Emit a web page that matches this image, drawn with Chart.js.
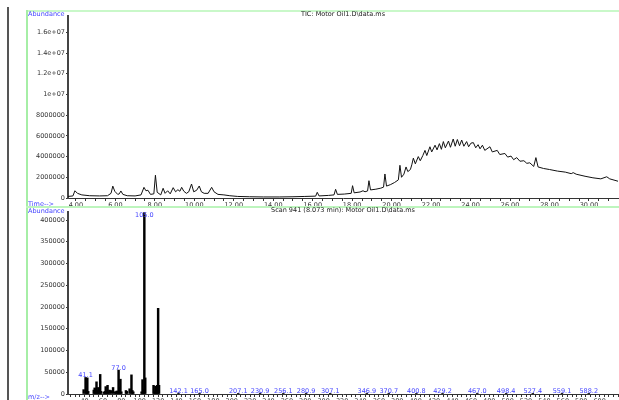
<!DOCTYPE html>
<html>
<head>
<meta charset="utf-8">
<script src="https://cdn.jsdelivr.net/npm/chart.js@4/dist/chart.umd.min.js"></script>
<style>
  html, body { margin: 0; padding: 0; background: #fff; }
  body { position: relative; width: 619px; height: 400px; overflow: hidden; font-family: "DejaVu Sans", sans-serif; }
  .rule { position: absolute; }
  .txt { position: absolute; font-size: 6.5px; line-height: 1; white-space: nowrap; }
  .blue { color: #4444ff; }
  .dark { color: #222; }
  canvas { position: absolute; }
</style>
</head>
<body>

<!-- frame rules -->
<div class="rule" style="left:7px;top:7px;width:2px;height:393px;background:#555;"></div>
<div class="rule" style="left:26px;top:10px;width:593px;height:2px;background:#c9f8c9;z-index:2;"></div>
<div class="rule" style="left:26px;top:10px;width:2px;height:390px;background:#a6eea6;z-index:2;"></div>
<div class="rule" style="left:26px;top:206px;width:593px;height:2px;background:#bdf5bd;z-index:2;"></div>

<canvas id="ticCanvas" width="592" height="196" style="left:27px;top:11px;"></canvas>
<canvas id="msCanvas" width="592" height="200" style="left:27px;top:207px;"></canvas>

<!-- panel captions -->
<div class="txt blue" style="left:28px;top:10.5px;z-index:3;">Abundance</div>
<div class="txt dark" style="left:243px;width:200px;text-align:center;top:10.5px;z-index:3;">TIC: Motor Oil1.D\data.ms</div>
<div class="txt blue" style="left:28px;top:200.5px;z-index:3;">Time--&gt;</div>
<div class="txt blue" style="left:28px;top:207.5px;z-index:3;">Abundance</div>
<div class="txt dark" style="left:193px;width:300px;text-align:center;top:206.5px;z-index:3;">Scan 941 (8.073 min): Motor Oil1.D\data.ms</div>
<div class="txt blue" style="left:28px;top:393.5px;z-index:3;">m/z--&gt;</div>

<script>
// ---- total ion chromatogram ----
const ticTime = [
  3.60, 3.85, 3.95, 4.08, 4.30, 4.70, 5.20, 5.60, 5.78, 5.87, 5.97, 6.12, 6.20, 6.28, 6.38, 6.60,
  7.00, 7.30, 7.45, 7.55, 7.65, 7.78, 7.95, 8.03, 8.12, 8.30, 8.42, 8.52, 8.65, 8.78, 8.93, 9.05,
  9.17, 9.27, 9.36, 9.47, 9.60, 9.72, 9.86, 9.97, 10.12, 10.25, 10.36, 10.50, 10.70, 10.88, 11.00,
  11.20, 11.50, 11.80, 12.20, 12.80, 13.50, 14.30, 15.00, 15.60, 16.15, 16.23, 16.32, 16.80, 17.08,
  17.16, 17.25, 17.60, 17.95, 18.02, 18.10, 18.40, 18.55, 18.65, 18.78, 18.85, 18.93, 19.20, 19.45,
  19.59, 19.66, 19.74, 19.95, 20.15, 20.34, 20.42, 20.50, 20.62, 20.73, 20.82, 20.95, 21.02, 21.10,
  21.20, 21.35, 21.45, 21.58, 21.69, 21.78, 21.94, 22.03, 22.20, 22.30, 22.42, 22.52, 22.62, 22.72,
  22.88, 22.98, 23.12, 23.22, 23.33, 23.44, 23.55, 23.66, 23.80, 23.90, 24.02, 24.14, 24.26, 24.38,
  24.48, 24.60, 24.72, 24.98, 25.10, 25.35, 25.48, 25.74, 25.88, 26.05, 26.18, 26.34, 26.50, 26.70,
  26.85, 27.00, 27.20, 27.31, 27.42, 27.70, 28.00, 28.40, 28.80, 29.10, 29.20, 29.35, 29.80, 30.20,
  30.60, 30.90, 31.05, 31.47
];
const ticAbundance = [
  0.15e6, 0.2e6, 0.7e6, 0.45e6, 0.3e6, 0.22e6, 0.2e6, 0.22e6, 0.45e6, 1.15e6, 0.65e6, 0.35e6, 0.4e6, 0.68e6, 0.35e6, 0.22e6,
  0.2e6, 0.3e6, 1.03e6, 0.7e6, 0.75e6, 0.35e6, 0.4e6, 2.2e6, 0.55e6, 0.3e6, 0.94e6, 0.45e6, 0.7e6, 0.4e6, 1.0e6, 0.6e6,
  0.8e6, 0.65e6, 1.03e6, 0.65e6, 0.45e6, 0.6e6, 1.35e6, 0.6e6, 0.75e6, 1.16e6, 0.6e6, 0.45e6, 0.45e6, 1.03e6, 0.6e6,
  0.35e6, 0.3e6, 0.22e6, 0.15e6, 0.12e6, 0.1e6, 0.1e6, 0.12e6, 0.15e6, 0.18e6, 0.55e6, 0.2e6, 0.25e6, 0.3e6,
  0.84e6, 0.35e6, 0.38e6, 0.45e6, 1.19e6, 0.5e6, 0.58e6, 0.7e6, 0.6e6, 0.68e6, 1.67e6, 0.78e6, 0.85e6, 0.95e6,
  1.05e6, 2.32e6, 1.15e6, 1.3e6, 1.5e6, 1.75e6, 3.16e6, 2.0e6, 2.3e6, 3.0e6, 2.55e6, 2.75e6, 3.2e6, 3.85e6,
  3.3e6, 4.0e6, 3.6e6, 4.1e6, 4.6e6, 4.1e6, 4.95e6, 4.45e6, 5.1e6, 4.65e6, 5.25e6, 4.7e6, 5.45e6, 4.85e6,
  5.5e6, 4.9e6, 5.7e6, 5.0e6, 5.65e6, 5.05e6, 5.6e6, 5.0e6, 5.45e6, 4.95e6, 5.3e6, 5.35e6, 4.85e6, 5.15e6,
  4.75e6, 5.1e6, 4.6e6, 4.95e6, 4.45e6, 4.6e6, 4.2e6, 4.3e6, 3.95e6, 4.05e6, 3.7e6, 3.9e6, 3.55e6, 3.6e6,
  3.35e6, 3.4e6, 3.05e6, 3.9e6, 3.0e6, 2.85e6, 2.75e6, 2.6e6, 2.5e6, 2.35e6, 2.45e6, 2.3e6, 2.1e6, 1.95e6,
  1.85e6, 2.05e6, 1.85e6, 1.62e6
];
const timeTickLabels = ['4.00', '6.00', '8.00', '10.00', '12.00', '14.00', '16.00', '18.00',
                        '20.00', '22.00', '24.00', '26.00', '28.00', '30.00'];
const ticYTickLabels = ['0', '2000000', '4000000', '6000000', '8000000', '1e+07', '1.2e+07', '1.4e+07', '1.6e+07'];

// ---- mass spectrum of scan 941 ----
const spectrumMz = [
  39, 41.1, 42, 43, 44, 50, 51, 52, 53, 54, 55, 56, 57, 58, 61, 62, 63, 64, 65, 66, 67, 69, 71,
  73, 74, 75, 76, 77.0, 78, 79, 80, 85, 86, 89, 91, 92, 93, 102, 103, 104, 105.0, 106,
  115, 116, 117, 118, 119, 120, 121,
  142.1, 165.0, 207.1, 230.9, 256.1, 280.9, 307.1, 346.9, 370.7, 400.8, 429.2, 467.0, 498.4, 527.4, 559.1, 588.2
];
const spectrumAbundance = [
  10000, 38000, 8000, 37000, 6000, 9000, 14000, 12000, 28000, 8000, 15000, 9000, 45000, 6000, 4000, 6000, 17000, 6000, 20000, 5000, 9000, 8000, 15000,
  5000, 5000, 7000, 6000, 55000, 15000, 34000, 5000, 8000, 6000, 12000, 44000, 8000, 5000, 5000, 33000, 10000, 417000, 37000,
  20000, 5000, 18000, 8000, 20000, 197000, 20000,
  2200, 1800, 1600, 2000, 1700, 1900, 1600, 1800, 1700, 1600, 1800, 1700, 1600, 1700, 1800, 1600
];
const labeledMz = [41.1, 77.0, 105.0, 142.1, 165.0, 207.1, 230.9, 256.1, 280.9, 307.1,
                   346.9, 370.7, 400.8, 429.2, 467.0, 498.4, 527.4, 559.1, 588.2];
const mzTickLabels = ['40', '60', '80', '100', '120', '140', '160', '180', '200', '220', '240', '260', '280', '300',
                      '320', '340', '360', '380', '400', '420', '440', '460', '480', '500', '520', '540', '560', '580', '600'];
const msYTickLabels = ['0', '50000', '100000', '150000', '200000', '250000', '300000', '350000', '400000'];

const FONT = { family: '"DejaVu Sans"', size: 6.5 };
const INK = '#333';

// labelled major ticks with evenly spaced unlabelled ticks between them
function ruler(labels, sub, min, max) {
  const majors = labels.map(Number);
  const step = (majors[1] - majors[0]) / sub;
  const out = [];
  let v = majors[0] - Math.floor((majors[0] - min) / step) * step;
  for (; v <= max + 1e-9; v += step) {
    const k = majors.findIndex(m => Math.abs(m - v) < step / 10);
    out.push({ value: v, text: k >= 0 ? labels[k] : '' });
  }
  return out;
}

function xAxis(min, max, labels, sub, height) {
  const marks = ruler(labels, sub, min, max);
  return {
    type: 'linear', min, max, offset: false,
    afterBuildTicks: s => { s.ticks = marks.map(m => ({ value: m.value })); },
    afterFit: s => { s.height = height; },
    ticks: { autoSkip: false, maxRotation: 0, minRotation: 0, padding: 0, font: FONT, color: INK,
             callback: (v, i) => marks[i] ? marks[i].text : '' },
    grid: { drawOnChartArea: false, offset: false, tickLength: 3, tickColor: INK, tickWidth: 1 },
    border: { color: INK, width: 1 }
  };
}

function yAxis(max, labels) {
  return {
    min: 0, max,
    afterBuildTicks: s => { s.ticks = labels.map(l => ({ value: Number(l) })); },
    afterFit: s => { s.width = 41; },
    ticks: { autoSkip: false, padding: 1, font: FONT, color: INK, callback: (v, i) => labels[i] },
    grid: { drawOnChartArea: false, tickLength: 2, tickColor: INK, tickWidth: 1 },
    border: { color: '#444', width: 2 }
  };
}

new Chart(document.getElementById('ticCanvas'), {
  type: 'scatter',
  data: {
    datasets: [{
      data: ticTime.map((t, i) => ({ x: t, y: ticAbundance[i] })),
      showLine: true, borderColor: '#111', borderWidth: 1, pointRadius: 0, tension: 0
    }]
  },
  options: {
    responsive: false, animation: false, events: [],
    layout: { padding: { top: 5, right: 1, left: 0, bottom: 0 } },
    plugins: { legend: { display: false }, tooltip: { enabled: false } },
    scales: {
      x: xAxis(3.6, 31.47, timeTickLabels, 4, 9),
      y: yAxis(1.758e7, ticYTickLabels)
    }
  }
});

const peakLabels = {
  id: 'peakLabels',
  afterDatasetsDraw(chart) {
    const { ctx, chartArea, scales: { x, y } } = chart;
    ctx.save();
    ctx.font = '6.5px "DejaVu Sans"';
    ctx.fillStyle = '#4444ff';
    ctx.textAlign = 'center';
    ctx.textBaseline = 'alphabetic';
    labeledMz.forEach(m => {
      const i = spectrumMz.indexOf(m);
      const px = x.getPixelForValue(m);
      const py = Math.max(y.getPixelForValue(spectrumAbundance[i]), chartArea.top + 5);
      ctx.fillText(m.toFixed(1), px, py);
    });
    ctx.restore();
  }
};

new Chart(document.getElementById('msCanvas'), {
  type: 'bar',
  data: {
    datasets: [{
      data: spectrumMz.map((m, i) => ({ x: m, y: spectrumAbundance[i] })),
      backgroundColor: '#000', borderWidth: 0, barThickness: 1.8, grouped: false
    }]
  },
  options: {
    responsive: false, animation: false, events: [],
    layout: { padding: { top: 5, right: 1, left: 0, bottom: 0 } },
    plugins: { legend: { display: false }, tooltip: { enabled: false } },
    scales: {
      x: xAxis(22, 620, mzTickLabels, 4, 13),
      y: yAxis(418400, msYTickLabels)
    }
  },
  plugins: [peakLabels]
});
</script>
</body>
</html>
